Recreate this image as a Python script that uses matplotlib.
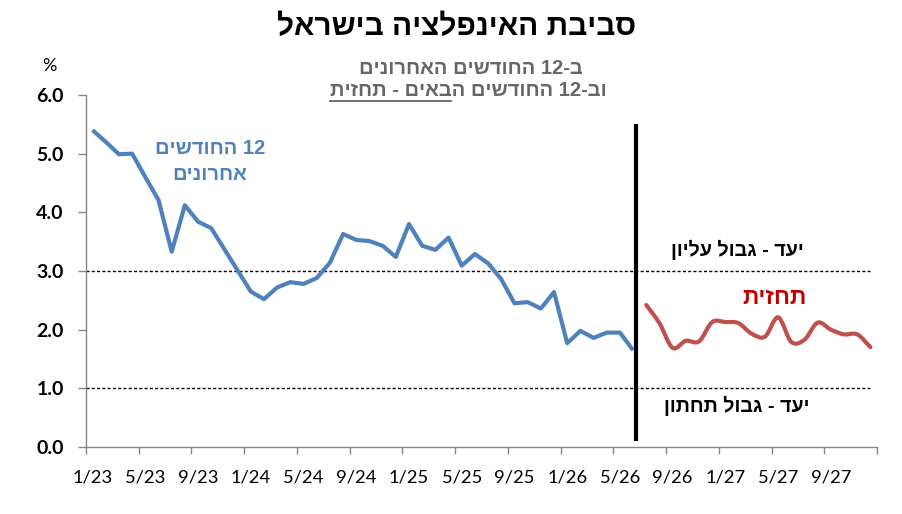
import re
import matplotlib
matplotlib.use("Agg")
import matplotlib.pyplot as plt
from matplotlib.path import Path
from matplotlib.patches import PathPatch
from matplotlib.lines import Line2D

# ---------------- data ----------------
years = ["23", "24", "25", "26", "27"]
months = [f"{m}/{y}" for y in years for m in range(1, 13)]  # 1/23 .. 12/27

actual_values = [5.40, 5.20, 4.99, 5.00, 4.60, 4.21, 3.33, 4.12, 3.84, 3.73,
                 3.37, 3.01, 2.65, 2.52, 2.72, 2.81, 2.78, 2.88, 3.14, 3.63,
                 3.53, 3.51, 3.43, 3.24, 3.80, 3.43, 3.36, 3.57, 3.09, 3.29,
                 3.13, 2.86, 2.45, 2.47, 2.36, 2.64, 1.77, 1.98, 1.86, 1.95,
                 1.95, 1.65]
forecast_values = [2.42, 2.11, 1.69, 1.81, 1.80, 2.13, 2.13, 2.11, 1.93, 1.88,
                   2.21, 1.79, 1.83, 2.12, 2.00, 1.92, 1.92, 1.70]
tick_labels = ["1/23", "5/23", "9/23", "1/24", "5/24", "9/24", "1/25", "5/25",
               "9/25", "1/26", "5/26", "9/26", "1/27", "5/27", "9/27"]
target_upper = 3.0
target_lower = 1.0
y_ticks = [0, 1, 2, 3, 4, 5, 6]

title = "סביבת האינפלציה בישראל"
sub1 = "ב-12 החודשים האחרונים"
sub2_plain = "וב-12 החודשים ה"
sub2_under = "באים - תחזית"
label_actual = ["12 החודשים", "אחרונים"]
label_forecast = "תחזית"
label_upper = "יעד - גבול עליון"
label_lower = "יעד - גבול תחתון"


def rtl(s):
    """visual (left-to-right) order for Hebrew text, numbers kept LTR"""
    r = s[::-1]
    return re.sub(r"\d+", lambda m: m.group(0)[::-1], r)


HEB = ["Liberation Sans", "DejaVu Sans"]
HEB_N = ["Liberation Sans Narrow", "Liberation Sans", "DejaVu Sans"]
NUM = ["Lato", "DejaVu Sans"]

BLUE = "#4F81BD"
RED = "#C0504D"
GRAY = "#868686"

W, H = 902, 514
fig = plt.figure(figsize=(W / 100, H / 100), dpi=100)
ax = fig.add_axes([86 / W, 1 - 447 / H, (877 - 86) / W, (447 - 95) / H])

n = len(months)
x_act = list(range(len(actual_values)))
x_fc = list(range(len(actual_values), len(actual_values) + len(forecast_values)))

# actual series (straight segments)
ax.plot(x_act, actual_values, color=BLUE, lw=3.0, solid_joinstyle="round",
        solid_capstyle="butt", zorder=4)


# forecast series: smoothed (Excel-like cubic Bezier through the points)
def smooth_path(xs, ys):
    pts = list(zip(xs, ys))
    verts = [pts[0]]
    codes = [Path.MOVETO]
    for i in range(len(pts) - 1):
        p0 = pts[i - 1] if i > 0 else pts[i]
        p1 = pts[i]
        p2 = pts[i + 1]
        p3 = pts[i + 2] if i + 2 < len(pts) else pts[i + 1]
        c1 = (p1[0] + (p2[0] - p0[0]) / 6, p1[1] + (p2[1] - p0[1]) / 6)
        c2 = (p2[0] - (p3[0] - p1[0]) / 6, p2[1] - (p3[1] - p1[1]) / 6)
        verts += [c1, c2, p2]
        codes += [Path.CURVE4] * 3
    return Path(verts, codes)


ax.add_patch(PathPatch(smooth_path(x_fc, forecast_values), facecolor="none",
                       edgecolor=RED, lw=3.0, capstyle="round", zorder=4))

# target band lines
ax.plot([-0.5, 59.0], [target_upper] * 2, color="black", lw=1.0,
        dashes=(2.2, 1.6), zorder=2)
ax.plot([-0.5, 59.0], [target_lower] * 2, color="black", lw=1.0,
        dashes=(2.2, 1.6), zorder=2)

# separator between actual and forecast
sep_x = len(actual_values) - 0.75
ax.plot([sep_x, sep_x], [0.1, 5.5], color="black", lw=3.0, zorder=5,
        solid_capstyle="butt")

ax.set_xlim(-0.5, n - 0.5)
ax.set_ylim(0, 6)

for s in ["top", "right"]:
    ax.spines[s].set_visible(False)
for s in ["left", "bottom"]:
    ax.spines[s].set_color(GRAY)
    ax.spines[s].set_linewidth(1.0)

ax.set_yticks(y_ticks)
ax.set_yticklabels([f"{v:.1f}" for v in y_ticks], fontfamily=NUM,
                   fontweight="bold", fontsize=14)
ax.tick_params(axis="y", direction="out", length=6, width=1, color=GRAY,
               pad=10)

# tick marks between category groups, labels on categories
ax.set_xticks([i - 0.5 for i in range(0, n + 1, 4)])
ax.set_xticklabels([])
ax.tick_params(axis="x", which="major", direction="out", length=5, width=1,
               color=GRAY)
lab_pos = [months.index(t) for t in tick_labels]
ax.set_xticks(lab_pos, minor=True)
ax.set_xticklabels(tick_labels, minor=True, fontfamily=NUM, fontsize=13.2)
ax.tick_params(axis="x", which="minor", length=0, pad=16)

# texts
fig.text(457 / W, 1 - 27 / H, rtl(title), ha="center", va="center",
         fontsize=21.5, fontweight="bold", family=HEB, color="black")
fig.text(471 / W, 1 - 68 / H, rtl(sub1), ha="center", va="center",
         fontsize=14.5, fontweight="bold", family=HEB, color="#666666")
t2 = fig.text(468 / W, 1 - 91 / H, rtl(sub2_plain + sub2_under), ha="center",
              va="center", fontsize=14.5, fontweight="bold", family=HEB,
              color="#666666")
fig.text(49 / W, 1 - 66 / H, "%", ha="center", va="center", fontsize=13,
         family=NUM, color="black")

fig.text(210 / W, 1 - 148 / H, rtl(label_actual[0]), ha="center", va="center",
         fontsize=14.5, fontweight="bold", family=HEB, color=BLUE)
fig.text(210 / W, 1 - 174 / H, rtl(label_actual[1]), ha="center", va="center",
         fontsize=14.5, fontweight="bold", family=HEB, color=BLUE)
fig.text(775 / W, 1 - 297 / H, rtl(label_forecast), ha="center", va="center",
         fontsize=16.5, fontweight="bold", family=HEB, color="#C00000")
fig.text(737 / W, 1 - 250 / H, rtl(label_upper), ha="center", va="center",
         fontsize=14.2, fontweight="bold", family=HEB_N, color="black")
fig.text(737 / W, 1 - 406 / H, rtl(label_lower), ha="center", va="center",
         fontsize=14.2, fontweight="bold", family=HEB_N, color="black")

# underline for the forecast part of the subtitle
fig.canvas.draw()
r = fig.canvas.get_renderer()
bb = t2.get_window_extent(r)
tmp = fig.text(0, 0, rtl(sub2_under), fontsize=14.5, fontweight="bold",
               family=HEB)
wpart = tmp.get_window_extent(r).width
tmp.remove()
y_ul = bb.y0
fig.add_artist(Line2D([bb.x0 / W, (bb.x0 + wpart) / W],
                      [y_ul / H, y_ul / H], color="#666666", lw=1.3))

fig.savefig("out.png", dpi=100)
